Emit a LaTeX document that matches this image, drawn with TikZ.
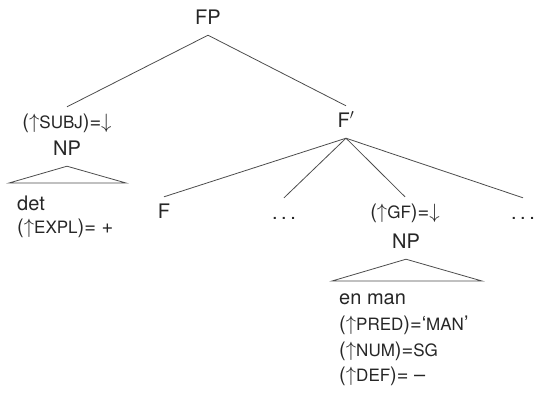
\documentclass[tikz,border=0pt]{standalone}
\usepackage{fontspec}
\setmainfont{TeX Gyre Heros}
\newcommand{\feat}[1]{{\fontsize{17}{20}\selectfont #1}}
\newcommand{\gapdots}{.\hspace{3.5pt}.\hspace{3.5pt}.}
\tikzset{
  cat/.style={inner xsep=0pt, inner ysep=7pt, text height=14pt, text depth=4pt, text=black!85},
  attr/.style={inner sep=0pt, anchor=base west, text=black!85},
  branch/.style={draw=black!70, line width=0.8pt}
}

\begin{document}
\begin{tikzpicture}[x=1pt,y=-1pt,font=\fontsize{20}{24}\selectfont]
	\useasboundingbox (0,0) rectangle (537,397);

	% tree nodes
	\node[cat,anchor=base] (fp) at (208,24) {FP};
	\node[cat,anchor=base] (subj) at (67,128) {($\uparrow$\feat{SUBJ})=$\downarrow$};
	\node[cat,anchor=base] (np1) at (67,155) {NP};
	\node[cat,anchor=base] (fbar) at (346,127) {F$'$};

	\node[cat,anchor=base] (f) at (164,218) {F};
	\node[cat,anchor=base] (dots1) at (284,219) {\gapdots};
	\node[cat,anchor=base] (gf) at (405,218) {($\uparrow$\feat{GF})=$\downarrow$};
	\node[cat,anchor=base] (dots2) at (523,219) {\gapdots};
	\node[cat,anchor=base] (np2) at (406,248) {NP};

	% triangles
	\coordinate (t1l) at (9,183);
	\coordinate (t1r) at (126,183);
	\coordinate (t2l) at (332,281);
	\coordinate (t2r) at (482,281);

	% attribute lines
	\node[attr] (det) at (17,210) {det};
	\node[attr] (expl) at (17,233) {($\uparrow$\feat{EXPL})= +};
	\node[attr] (enman) at (339,304) {en man};
	\node[attr] (pred) at (339,330) {($\uparrow$\feat{PRED})=`\feat{MAN}'};
	\node[attr] (num) at (339,356) {($\uparrow$\feat{NUM})=\feat{SG}};
	\node[attr] (def) at (339,381) {($\uparrow$\feat{DEF})= \textendash};

	\draw[branch] (fp.south) to (subj.north);
	\draw[branch] (fp.south) to (fbar.north);
	\draw[branch] (fbar.south) to (f.north);
	\draw[branch] (fbar.south) to (dots1.north);
	\draw[branch] (fbar.south) to (gf.north);
	\draw[branch] (fbar.south) to (dots2.north);

	\draw[branch] (np1.south) -- (t1l) -- (t1r) -- cycle;
	\draw[branch] (np2.south) -- (t2l) -- (t2r) -- cycle;
\end{tikzpicture}
\end{document}
